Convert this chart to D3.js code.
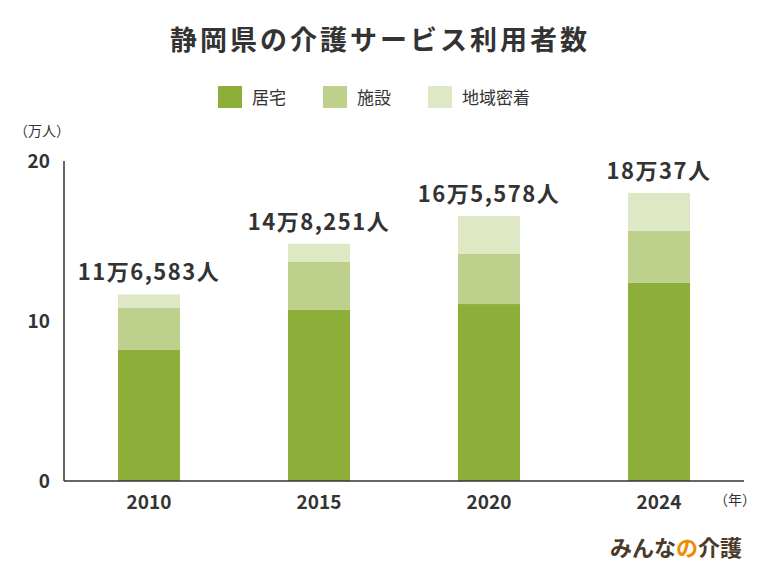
<!DOCTYPE html>
<html><head><meta charset="utf-8">
<script src="https://cdn.jsdelivr.net/npm/d3@7"></script>
<style>body{margin:0;background:#fff}text{font-family:"Noto Sans CJK JP","Noto Sans",sans-serif}</style>
</head><body><svg id="c" width="760" height="570"></svg>
<script>
const years=["2010","2015","2020","2024"];
const kyotaku=[8.19,10.69,11.06,12.38];
const shisetsu=[2.62,3.00,3.13,3.25];
const chiiki=[0.85,1.14,2.37,2.38];
const totalLabels=["11万6,583人","14万8,251人","16万5,578人","18万37人"];
const totals=[11.6583,14.8251,16.5578,18.0037];
const seriesNames=["居宅","施設","地域密着"];
const colors=["#8daf3a","#bdd18c","#dfe8c5"];
const yTicks=[0,10,20];

const svg=d3.select("#c");
const x=d3.scaleBand().domain(years).range([64,744]).paddingInner(0.635).paddingOuter(0.3175);
const y=d3.scaleLinear().domain([0,20]).range([481,161]);

svg.append("text").attr("x",380).attr("y",50).attr("text-anchor","middle").attr("font-size",27).attr("font-weight",700).attr("letter-spacing",3).attr("fill","#333").text("静岡県の介護サービス利用者数");

const lg=[[218,"居宅"],[323,"施設"],[428,"地域密着"]];
lg.forEach((l,i)=>{
  svg.append("rect").attr("x",l[0]).attr("y",86).attr("width",24).attr("height",22).attr("fill",colors[i]);
  svg.append("text").attr("x",l[0]+34).attr("y",104).attr("font-size",17).attr("fill","#333").text(seriesNames[i]);
});

const data=years.map((yr,i)=>({yr,vals:[kyotaku[i],shisetsu[i],chiiki[i]]}));
data.forEach((d,i)=>{
  let base=0;
  d.vals.forEach((v,j)=>{
    svg.append("rect").attr("x",x(d.yr)).attr("width",x.bandwidth())
      .attr("y",y(base+v)).attr("height",y(base)-y(base+v)).attr("fill",colors[j]);
    base+=v;
  });
  svg.append("text").attr("x",x(d.yr)+x.bandwidth()/2).attr("y",y(totals[i])-14)
    .attr("text-anchor","middle").attr("font-size",22).attr("font-weight",700).attr("letter-spacing",1.5).attr("fill","#333").text(totalLabels[i]);
});

svg.append("line").attr("x1",64).attr("x2",64).attr("y1",161).attr("y2",481).attr("stroke","#333").attr("stroke-width",1.5);
svg.append("line").attr("x1",64).attr("x2",744).attr("y1",481).attr("y2",481).attr("stroke","#333").attr("stroke-width",1.5);
yTicks.forEach(t=>{
  svg.append("text").attr("x",50).attr("y",y(t)+7).attr("text-anchor","end").attr("font-size",19).attr("font-weight",700).attr("fill","#333").text(t);
});
years.forEach(yr=>{
  svg.append("text").attr("x",x(yr)+x.bandwidth()/2).attr("y",509).attr("text-anchor","middle").attr("font-size",19).attr("font-weight",700).attr("fill","#333").text(yr);
});
svg.append("text").attr("x",14).attr("y",136).attr("font-size",14).attr("fill","#333").text("（万人）");
svg.append("text").attr("x",714).attr("y",505).attr("font-size",14).attr("fill","#333").text("（年）");
const logo=svg.append("text").attr("x",742).attr("y",556).attr("text-anchor","end").attr("font-size",22).attr("font-weight",700).attr("fill","#4a3a2a");
logo.append("tspan").text("みんな");
logo.append("tspan").attr("fill","#f08a00").text("の");
logo.append("tspan").text("介護");
</script></body></html>
